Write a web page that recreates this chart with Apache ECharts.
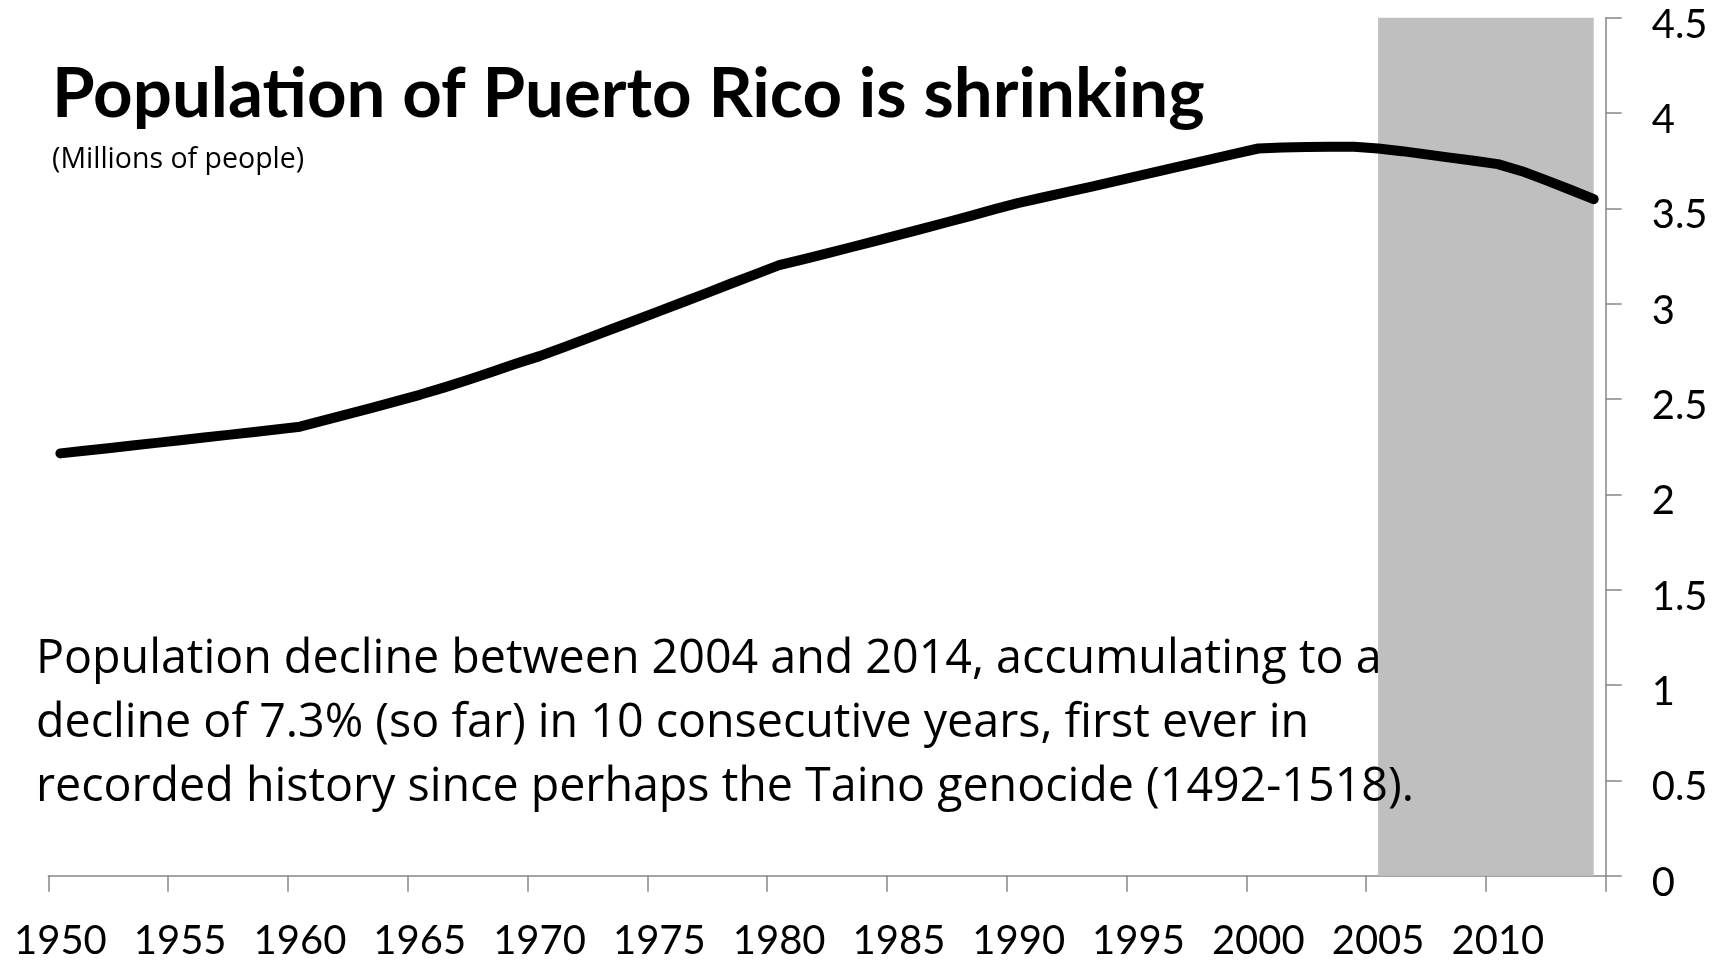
<!DOCTYPE html>
<html>
<head>
<meta charset="utf-8">
<title>Population of Puerto Rico is shrinking</title>
<script src="https://cdn.jsdelivr.net/npm/echarts@6/dist/echarts.min.js"></script>
<style>
  html, body { margin: 0; padding: 0; background: #ffffff; }
  #chart { width: 1725px; height: 964px; }
</style>
</head>
<body>
<div id="chart"></div>
<script>
// Years on the category axis
const years = [
  '1950','1951','1952','1953','1954','1955','1956','1957','1958','1959',
  '1960','1961','1962','1963','1964','1965','1966','1967','1968','1969',
  '1970','1971','1972','1973','1974','1975','1976','1977','1978','1979',
  '1980','1981','1982','1983','1984','1985','1986','1987','1988','1989',
  '1990','1991','1992','1993','1994','1995','1996','1997','1998','1999',
  '2000','2001','2002','2003','2004','2005','2006','2007','2008','2009',
  '2010','2011','2012','2013','2014'
];

// Population, millions of people
const population = [
  2.215, 2.229, 2.242, 2.256, 2.270, 2.284, 2.298, 2.312, 2.326, 2.340,
  2.355, 2.388, 2.421, 2.454, 2.488, 2.522, 2.560, 2.600, 2.642, 2.685,
  2.725, 2.771, 2.818, 2.866, 2.913, 2.961, 3.009, 3.057, 3.106, 3.154,
  3.202, 3.233, 3.264, 3.296, 3.328, 3.361, 3.394, 3.427, 3.461, 3.496,
  3.529, 3.557, 3.585, 3.613, 3.642, 3.670, 3.699, 3.728, 3.757, 3.786,
  3.814, 3.819, 3.822, 3.823, 3.823, 3.814, 3.800, 3.783, 3.766, 3.750,
  3.732, 3.695, 3.648, 3.599, 3.548
];

// Shaded period of decline
const declineStart = '2005';
const declineEnd = '2014';

const titleText = 'Population of Puerto Rico is shrinking';
const subtitleText = '(Millions of people)';
const noteLines = [
  'Population decline between 2004 and 2014, accumulating to a',
  'decline of 7.3% (so far) in 10 consecutive years, first ever in',
  'recorded history since perhaps the Taino genocide (1492-1518).'
];

const FONT = 'Lato, "Open Sans", sans-serif';
const BODY_FONT = '"Open Sans", Lato, sans-serif';
const AXIS_GREY = '#868686';

const chart = echarts.init(document.getElementById('chart'), null, { renderer: 'canvas' });

chart.setOption({
  animation: false,
  backgroundColor: '#ffffff',
  grid: {
    left: 48.4, right: 119.3, top: 17.7, bottom: 88.3,
    containLabel: false, outerBoundsMode: 'none'
  },
  xAxis: {
    type: 'category',
    data: years,
    boundaryGap: true,
    axisLine: { show: true, lineStyle: { color: AXIS_GREY, width: 1.5 } },
    axisTick: { show: true, interval: 4, length: 16, lineStyle: { color: AXIS_GREY, width: 1.5 } },
    axisLabel: {
      interval: 4, margin: 45, color: '#000000',
      fontFamily: FONT, fontSize: 40, lineHeight: 40
    },
    splitLine: { show: false }
  },
  yAxis: {
    type: 'value',
    position: 'right',
    min: 0, max: 4.5, interval: 0.5,
    axisLine: { show: true, lineStyle: { color: AXIS_GREY, width: 1.5 } },
    axisTick: { show: true, length: 16, lineStyle: { color: AXIS_GREY, width: 1.5 } },
    axisLabel: {
      margin: 46, color: '#000000', align: 'left', verticalAlign: 'top',
      fontFamily: FONT, fontSize: 40, lineHeight: 14
    },
    splitLine: { show: false }
  },
  graphic: [
    {
      type: 'text', left: 52, top: 60, z: 10,
      style: { text: titleText, fill: '#000000', font: 'bold 69px ' + FONT }
    },
    {
      type: 'text', left: 52, top: 145, z: 10,
      style: { text: subtitleText, fill: '#000000', font: '28.5px ' + BODY_FONT }
    },
    {
      type: 'text', left: 36, top: 628, z: 10,
      style: {
        text: noteLines.join('\n'), fill: '#000000',
        font: '46.6px ' + BODY_FONT, lineHeight: 64
      }
    }
  ],
  series: [
    {
      // grey band behind the line
      type: 'line',
      data: [],
      z: 1,
      silent: true,
      markArea: {
        silent: true,
        itemStyle: { color: '#bfbfbf', opacity: 1 },
        data: [[
          { xAxis: declineStart, yAxis: 0 },
          { xAxis: declineEnd, yAxis: 4.5 }
        ]]
      }
    },
    {
      type: 'line',
      data: population,
      z: 3,
      symbol: 'none',
      smooth: false,
      lineStyle: { color: '#000000', width: 10, cap: 'round', join: 'round' }
    }
  ]
});
</script>
</body>
</html>
